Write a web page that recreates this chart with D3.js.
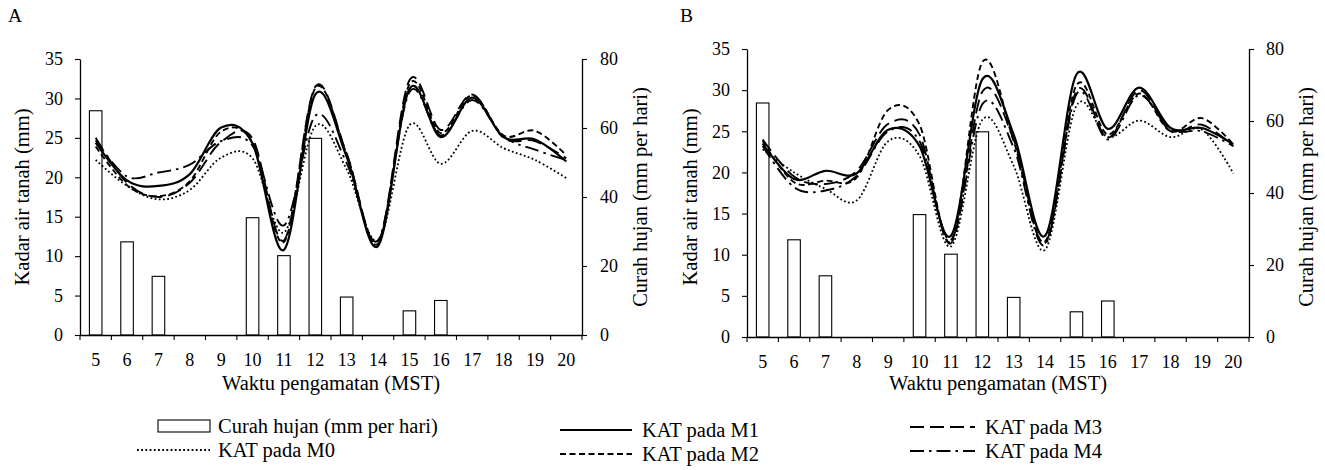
<!DOCTYPE html>
<html><head><meta charset="utf-8">
<script src="https://cdn.jsdelivr.net/npm/d3@7"></script>
<style>
body{margin:0;background:#fff;}
svg{display:block;font-family:"Liberation Serif","Times New Roman",serif;}
svg text{font-family:"Liberation Serif","Times New Roman",serif;}
</style></head><body>
<svg id="chart" width="1325" height="470"></svg>
<script>
// ---------- data ----------
const weeks = ["5","6","7","8","9","10","11","12","13","14","15","16","17","18","19","20"];
const rainfall = [65, 27, 17, 0, 0, 34, 23, 57, 11, 0, 7, 10, 0, 0, 0, 0];
const leftTicks = [0, 5, 10, 15, 20, 25, 30, 35];
const rightTicks = [0, 20, 40, 60, 80];
const seriesNames = ["KAT pada M0", "KAT pada M1", "KAT pada M2", "KAT pada M3", "KAT pada M4"];

// Panel A (Kadar air tanah, mm)
const aM0 = [22.2, 18.9, 17.2, 18.4, 22.5, 22.4, 13.0, 26.5, 21.0, 12.0, 26.6, 21.7, 25.9, 23.7, 22.2, 19.9];
const aM1 = [24.4, 19.6, 18.9, 20.4, 26.3, 24.3, 10.8, 30.5, 22.6, 11.3, 31.2, 25.1, 30.1, 25.1, 24.8, 22.0];
const aM2 = [23.9, 19.0, 17.6, 19.5, 25.8, 24.4, 11.8, 31.3, 22.9, 11.6, 31.8, 25.6, 30.4, 25.3, 25.9, 22.8];
const aM3 = [25.0, 19.3, 17.5, 19.3, 24.5, 24.9, 12.0, 31.5, 23.0, 11.8, 32.3, 26.0, 30.5, 25.0, 24.6, 22.4];
const aM4 = [24.7, 20.1, 20.6, 21.6, 24.6, 24.0, 13.9, 27.8, 21.8, 12.0, 30.8, 25.3, 29.8, 25.2, 23.5, 22.2];

// Panel B (Kadar air tanah, mm)
const bM0 = [22.8, 20.0, 18.0, 16.6, 23.8, 22.0, 11.0, 26.4, 20.8, 10.6, 28.1, 24.3, 26.3, 24.3, 25.2, 19.9];
const bM1 = [23.5, 19.2, 20.2, 19.9, 25.2, 23.2, 12.3, 31.3, 24.6, 12.3, 31.9, 25.3, 30.3, 25.4, 25.4, 23.4];
const bM2 = [23.8, 18.8, 19.0, 19.4, 27.6, 25.8, 11.6, 33.4, 23.8, 11.6, 30.6, 24.6, 29.6, 25.0, 26.6, 23.4];
const bM3 = [24.0, 19.5, 18.6, 20.2, 25.9, 24.6, 11.4, 29.8, 24.0, 11.4, 29.9, 24.2, 30.0, 25.0, 25.8, 23.2];
const bM4 = [23.2, 18.2, 17.8, 19.6, 25.0, 23.8, 11.8, 28.3, 23.0, 11.2, 29.5, 24.0, 29.4, 25.2, 25.0, 23.2];

// ---------- styles ----------
const styles = [
  {w: 1.8, dash: "1.8,2.4"},
  {w: 2.2, dash: null},
  {w: 1.9, dash: "6,3.5"},
  {w: 1.9, dash: "14,6"},
  {w: 1.9, dash: "14,5,2.5,5"}
];

const svg = d3.select("#chart");
const FS = 18;      // tick labels
const FT = 20.5;    // titles and legend
const FF = "Liberation Serif, Times New Roman, serif";

function drawPanel(cfg) {
  const g = svg.append("g");
  const x = d3.scaleBand().domain(weeks).range([cfg.l, cfg.r]);
  const bw = x.bandwidth();
  const yL = d3.scaleLinear().domain([0, 35]).range([cfg.b, cfg.t]);
  const yR = d3.scaleLinear().domain([0, 80]).range([cfg.b, cfg.t]);

  g.selectAll("rect.bar").data(rainfall).join("rect")
    .attr("x", (d, i) => x(weeks[i]) + bw * 0.3)
    .attr("width", bw * 0.4)
    .attr("y", d => yR(d))
    .attr("height", d => yR(0) - yR(d))
    .attr("fill", "#fff").attr("stroke", "#000").attr("stroke-width", 1.1)
    .style("display", d => d > 0 ? null : "none");

  const line = d3.line()
    .x((d, i) => x(weeks[i]) + bw / 2)
    .y(d => yL(d))
    .curve(d3.curveCatmullRom.alpha(0));
  cfg.series.forEach((s, k) => {
    g.append("path").datum(s)
      .attr("d", line)
      .attr("fill", "none").attr("stroke", "#000")
      .attr("stroke-width", styles[k].w)
      .attr("stroke-dasharray", styles[k].dash);
  });

  const la = g.append("g").attr("transform", `translate(${cfg.l},0)`)
    .call(d3.axisLeft(yL).tickValues(leftTicks).tickSize(5).tickPadding(12).tickSizeOuter(0));
  const ra = g.append("g").attr("transform", `translate(${cfg.r},0)`)
    .call(d3.axisRight(yR).tickValues(rightTicks).tickSize(5).tickPadding(cfg.rPad).tickSizeOuter(0));
  const ba = g.append("g").attr("transform", `translate(0,${cfg.b})`)
    .call(d3.axisBottom(x).tickSize(0).tickPadding(18).tickSizeOuter(0));
  ba.selectAll(".tick").append("line")
    .attr("x1", bw / 2).attr("x2", bw / 2).attr("y1", 0).attr("y2", 5);
  ba.append("line").attr("x1", cfg.l).attr("x2", cfg.l).attr("y1", 0).attr("y2", 5);

  [la, ra, ba].forEach(a => {
    a.attr("font-family", FF);
    a.selectAll("text").attr("font-size", FS).attr("font-family", FF).attr("fill", "#000");
    a.selectAll("path.domain").attr("stroke", "#000").attr("stroke-width", 1.3);
    a.selectAll("line").attr("stroke", "#000").attr("stroke-width", 1.1);
  });

  g.append("text").attr("x", cfg.panelX).attr("y", 22).attr("font-size", FT - 1).attr("font-family", FF).text(cfg.label);
  g.append("text").attr("transform", `translate(${cfg.ltX},197) rotate(-90)`)
    .attr("text-anchor", "middle").attr("font-size", FT).attr("font-family", FF)
    .text("Kadar air tanah (mm)");
  g.append("text").attr("transform", `translate(${cfg.rtX},197) rotate(-90)`)
    .attr("text-anchor", "middle").attr("font-size", FT).attr("font-family", FF)
    .text("Curah hujan (mm per hari)");
  g.append("text").attr("x", (cfg.l + cfg.r) / 2).attr("y", 390)
    .attr("text-anchor", "middle").attr("font-size", FT).attr("font-family", FF).text("Waktu pengamatan (MST)");
}

drawPanel({label: "A", panelX: 8, l: 80, r: 582, t: 59, b: 335, ltX: 29, rtX: 647, rPad: 13,
           series: [aM0, aM1, aM2, aM3, aM4]});
drawPanel({label: "B", panelX: 680, l: 747, r: 1249, t: 49, b: 337, ltX: 697, rtX: 1313, rPad: 12,
           series: [bM0, bM1, bM2, bM3, bM4]});

// ---------- legend ----------
const lg = svg.append("g").attr("font-size", FT).attr("font-family", FF);
const legendItems = [
  {name: "Curah hujan (mm per hari)", type: "bar", x1: 158, x2: 210, tx: 218, y: 426},
  {name: seriesNames[0], k: 0, x1: 137, x2: 210, tx: 218, y: 450},
  {name: seriesNames[1], k: 1, x1: 560, x2: 632, tx: 642, y: 430},
  {name: seriesNames[2], k: 2, x1: 560, x2: 632, tx: 642, y: 454},
  {name: seriesNames[3], k: 3, x1: 910, x2: 975, tx: 985, y: 427},
  {name: seriesNames[4], k: 4, x1: 910, x2: 975, tx: 985, y: 451}
];
legendItems.forEach(it => {
  if (it.type === "bar") {
    lg.append("rect").attr("x", it.x1).attr("y", it.y - 6).attr("width", it.x2 - it.x1).attr("height", 12)
      .attr("fill", "#fff").attr("stroke", "#000").attr("stroke-width", 1.1);
  } else {
    lg.append("line").attr("x1", it.x1).attr("x2", it.x2).attr("y1", it.y).attr("y2", it.y)
      .attr("stroke", "#000").attr("stroke-width", styles[it.k].w)
      .attr("stroke-dasharray", styles[it.k].dash);
  }
  lg.append("text").attr("x", it.tx).attr("y", it.y).attr("dominant-baseline", "central").text(it.name);
});
</script>
</body></html>
